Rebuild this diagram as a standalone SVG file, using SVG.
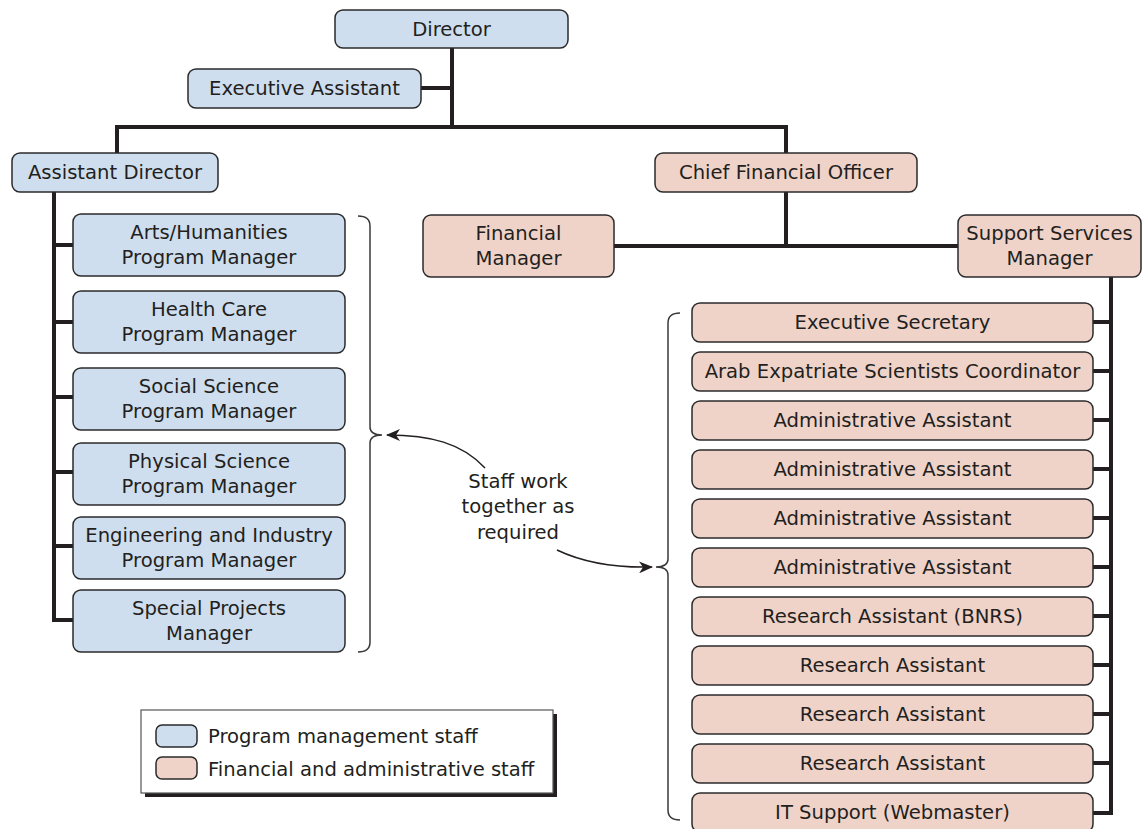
<svg xmlns="http://www.w3.org/2000/svg" width="1143" height="829" viewBox="0 0 1143 829">
<style>
text{font-family:"DejaVu Sans","Open Sans","Liberation Sans",sans-serif;font-size:19.6px;fill:#231f20;text-anchor:middle}
.b{fill:#cfdeee;stroke:#2b2b2b;stroke-width:1.5}
.p{fill:#efd3c9;stroke:#2b2b2b;stroke-width:1.5}
.c{fill:none;stroke:#231f20;stroke-width:4}
.br{fill:none;stroke:#3a3a3a;stroke-width:1.5}
.ar{fill:none;stroke:#231f20;stroke-width:1.5}
.lt{text-anchor:start}
</style>
<defs>
<marker id="ah" viewBox="0 0 14 12" refX="13" refY="6" markerWidth="14" markerHeight="12" markerUnits="userSpaceOnUse" orient="auto">
<path d="M0,0 L14,6 L0,12 L4,6 Z" fill="#231f20"/>
</marker>
</defs>
<g id="connectors">
<path class="c" d="M452,48 V127 M421,88 H452 M115,127 H788 M117,127 V153 M786,127 V153 M786,192 V246 M614,246 H958"/>
<path class="c" d="M54,192 V622 M54,245 H73 M54,322 H73 M54,397 H73 M54,472 H73 M54,546 H73 M54,620 H73"/>
<path class="c" d="M1111,277 V815 M1093,322 H1111 M1093,371 H1111 M1093,420 H1111 M1093,469 H1111 M1093,518 H1111 M1093,567 H1111 M1093,616 H1111 M1093,665 H1111 M1093,714 H1111 M1093,763 H1111 M1093,813 H1113"/>
<path class="br" d="M358,216 Q370,216 370,226 L370,427 Q370,435 382,435 Q370,435 370,443 L370,642 Q370,652 358,652"/>
<path class="br" d="M680,313 Q668,313 668,323 L668,559 Q668,567 656,567 Q668,567 668,575 L668,810 Q668,820 680,820"/>
<path class="ar" d="M485,468 C462,443 430,435 387,435" marker-end="url(#ah)"/>
<path class="ar" d="M557,550 C580,561 612,568 652,567" marker-end="url(#ah)"/>
</g>
<g id="director"><rect class="b" x="335" y="10" width="233" height="38" rx="8"/><text x="451.5" y="36">Director</text></g>
<g id="exec-assistant"><rect class="b" x="188" y="69" width="233" height="39" rx="8"/><text x="304.5" y="95">Executive Assistant</text></g>
<g id="assistant-director"><rect class="b" x="12" y="153" width="206" height="39" rx="8"/><text x="115" y="179">Assistant Director</text></g>
<g id="cfo"><rect class="p" x="655" y="153" width="262" height="39" rx="8"/><text x="786" y="179">Chief Financial Officer</text></g>
<g id="financial-manager"><rect class="p" x="423" y="215" width="191" height="62" rx="8"/><text x="518.5" y="240">Financial</text><text x="518.5" y="265">Manager</text></g>
<g id="support-services"><rect class="p" x="958" y="215" width="183" height="62" rx="8"/><text x="1049.5" y="240">Support Services</text><text x="1049.5" y="265">Manager</text></g>
<g id="arts"><rect class="b" x="73" y="214" width="272" height="62" rx="8"/><text x="209" y="239">Arts/Humanities</text><text x="209" y="264">Program Manager</text></g>
<g id="health"><rect class="b" x="73" y="291" width="272" height="62" rx="8"/><text x="209" y="316">Health Care</text><text x="209" y="341">Program Manager</text></g>
<g id="social"><rect class="b" x="73" y="368" width="272" height="62" rx="8"/><text x="209" y="393">Social Science</text><text x="209" y="418">Program Manager</text></g>
<g id="physical"><rect class="b" x="73" y="443" width="272" height="62" rx="8"/><text x="209" y="468">Physical Science</text><text x="209" y="493">Program Manager</text></g>
<g id="engineering"><rect class="b" x="73" y="517" width="272" height="62" rx="8"/><text x="209" y="542">Engineering and Industry</text><text x="209" y="567">Program Manager</text></g>
<g id="special"><rect class="b" x="73" y="590" width="272" height="62" rx="8"/><text x="209" y="615">Special Projects</text><text x="209" y="640">Manager</text></g>
<g id="exec-secretary"><rect class="p" x="692" y="303" width="401" height="39" rx="8"/><text x="892.5" y="329">Executive Secretary</text></g>
<g id="arab-coord"><rect class="p" x="692" y="352" width="401" height="39" rx="8"/><text x="892.5" y="378">Arab Expatriate Scientists Coordinator</text></g>
<g id="admin1"><rect class="p" x="692" y="401" width="401" height="39" rx="8"/><text x="892.5" y="427">Administrative Assistant</text></g>
<g id="admin2"><rect class="p" x="692" y="450" width="401" height="39" rx="8"/><text x="892.5" y="476">Administrative Assistant</text></g>
<g id="admin3"><rect class="p" x="692" y="499" width="401" height="39" rx="8"/><text x="892.5" y="525">Administrative Assistant</text></g>
<g id="admin4"><rect class="p" x="692" y="548" width="401" height="39" rx="8"/><text x="892.5" y="574">Administrative Assistant</text></g>
<g id="research-bnrs"><rect class="p" x="692" y="597" width="401" height="39" rx="8"/><text x="892.5" y="623">Research Assistant (BNRS)</text></g>
<g id="research1"><rect class="p" x="692" y="646" width="401" height="39" rx="8"/><text x="892.5" y="672">Research Assistant</text></g>
<g id="research2"><rect class="p" x="692" y="695" width="401" height="39" rx="8"/><text x="892.5" y="721">Research Assistant</text></g>
<g id="research3"><rect class="p" x="692" y="744" width="401" height="39" rx="8"/><text x="892.5" y="770">Research Assistant</text></g>
<g id="it-support"><rect class="p" x="692" y="793" width="401" height="39" rx="8"/><text x="892.5" y="819">IT Support (Webmaster)</text></g>
<g id="note"><text x="518" y="488">Staff work</text><text x="518" y="513">together as</text><text x="518" y="539">required</text></g>
<g id="legend">
<rect x="145" y="714" width="412" height="83" fill="#231f20"/>
<rect x="141" y="710" width="412" height="83" fill="#fff" stroke="#555" stroke-width="1.2"/>
<rect class="b" x="156" y="725" width="41" height="22" rx="6"/>
<rect class="p" x="156" y="757" width="41" height="22" rx="6"/>
<text class="lt" x="208" y="743">Program management staff</text>
<text class="lt" x="208" y="776">Financial and administrative staff</text>
</g>
</svg>
